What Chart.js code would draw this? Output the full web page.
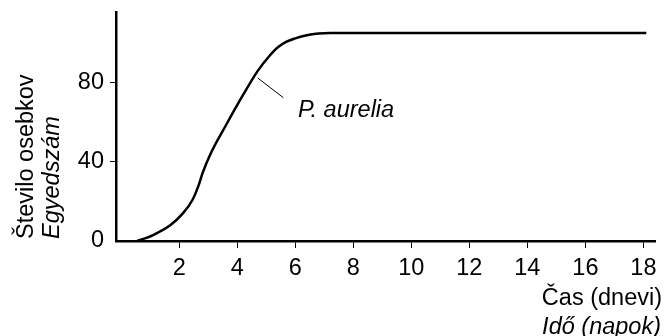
<!DOCTYPE html>
<html>
<head>
<meta charset="utf-8">
<script src="https://cdn.jsdelivr.net/npm/chart.js@4/dist/chart.umd.min.js"></script>
<style>
  html, body { margin: 0; padding: 0; background: #fff; }
  canvas { display: block; }
</style>
</head>
<body>
<canvas id="growth" width="664" height="336"></canvas>
<script>
// Population growth of Paramecium aurelia (individuals over days)
const days   = [0.55, 1.1, 1.7, 2.1, 2.45, 2.68, 2.8, 3.1, 3.6, 4.2, 4.7, 5.1, 5.4, 5.7, 6.0, 6.4, 6.8, 7.2, 8.0, 18.1];
const counts = [0, 3, 8, 13.5, 20.5, 28.5, 34, 44.5, 58, 73.5, 85.5, 93, 97.5, 100.3, 102, 103.6, 104.4, 104.7, 104.7, 104.7];

const xTicks = [2, 4, 6, 8, 10, 12, 14, 16, 18];
const yTicks = [0, 40, 80];

const seriesName = 'P. aurelia';
// callout: [day, count] of the leader line ends and of the label's baseline start
const calloutFrom  = [4.71, 82.0];
const calloutTo    = [5.59, 72.1];
const calloutLabel = [6.09, 62.4];

const yTitle = ['Število osebkov', 'Egyedszám'];
const xTitle = ['Čas (dnevi)', 'Idő (napok)'];

const FONT = '"Liberation Sans", Arial, Helvetica, sans-serif';
const SIZE = 23.5;

const titlesPlugin = {
  id: 'titles',
  afterDraw(chart) {
    const { ctx, scales } = chart;
    const xs = scales.x, ys = scales.y;
    ctx.save();
    ctx.fillStyle = '#000';

    // vertical axis title, two stacked lines reading bottom-to-top
    ctx.textAlign = 'left';
    ctx.textBaseline = 'alphabetic';
    ctx.save();
    ctx.translate(33, 239);
    ctx.rotate(-Math.PI / 2);
    ctx.font = `${SIZE}px ${FONT}`;
    ctx.fillText(yTitle[0], 0, 0);
    ctx.restore();
    ctx.save();
    ctx.translate(58.5, 239);
    ctx.rotate(-Math.PI / 2);
    ctx.font = `italic ${SIZE}px ${FONT}`;
    ctx.fillText(yTitle[1], 0, 0);
    ctx.restore();

    // horizontal axis title, right aligned under the axis end
    ctx.textAlign = 'right';
    ctx.font = `${SIZE}px ${FONT}`;
    ctx.fillText(xTitle[0], 662, 305);
    ctx.font = `italic ${SIZE}px ${FONT}`;
    ctx.fillText(xTitle[1], 661, 333.5);

    // series callout
    ctx.strokeStyle = '#000';
    ctx.lineWidth = 1;
    ctx.beginPath();
    ctx.moveTo(xs.getPixelForValue(calloutFrom[0]), ys.getPixelForValue(calloutFrom[1]));
    ctx.lineTo(xs.getPixelForValue(calloutTo[0]), ys.getPixelForValue(calloutTo[1]));
    ctx.stroke();
    ctx.textAlign = 'left';
    ctx.font = `italic ${SIZE}px ${FONT}`;
    ctx.fillText(seriesName, xs.getPixelForValue(calloutLabel[0]), ys.getPixelForValue(calloutLabel[1]));
    ctx.restore();
  }
};

new Chart(document.getElementById('growth'), {
  type: 'line',
  data: {
    datasets: [{
      label: seriesName,
      data: days.map((d, i) => ({ x: d, y: counts[i] })),
      borderColor: '#000',
      borderWidth: 2.5,
      pointRadius: 0,
      fill: false,
      cubicInterpolationMode: 'monotone'
    }]
  },
  options: {
    responsive: false,
    animation: false,
    devicePixelRatio: 1,
    layout: { padding: { left: 0, right: 9, top: 12.5, bottom: 0 } },
    plugins: { legend: { display: false }, tooltip: { enabled: false } },
    scales: {
      x: {
        type: 'linear',
        min: -0.18,
        max: 18.4,
        afterFit: s => { s.height = 95; s.paddingLeft = 0; s.paddingRight = 0; },
        afterBuildTicks: s => { s.ticks = xTicks.map(v => ({ value: v })); },
        border: { color: '#000', width: 2.5 },
        grid: { drawOnChartArea: false, drawTicks: true, tickLength: 7, color: '#000', lineWidth: 1 },
        ticks: { color: '#000', font: { family: FONT, size: SIZE }, padding: 6, maxRotation: 0, autoSkip: false }
      },
      y: {
        type: 'linear',
        min: 0,
        max: 115,
        afterFit: s => { s.width = 116; s.paddingTop = 0; s.paddingBottom = 0; },
        afterBuildTicks: s => { s.ticks = yTicks.map(v => ({ value: v })); },
        border: { color: '#000', width: 2.5 },
        grid: {
          drawOnChartArea: false, drawTicks: true, tickLength: 6, lineWidth: 1,
          color: c => (c.tick && c.tick.value === 0) ? 'rgba(0,0,0,0)' : '#000'
        },
        ticks: { color: '#000', font: { family: FONT, size: SIZE }, padding: 6 }
      }
    }
  },
  plugins: [titlesPlugin]
});
</script>
</body>
</html>
